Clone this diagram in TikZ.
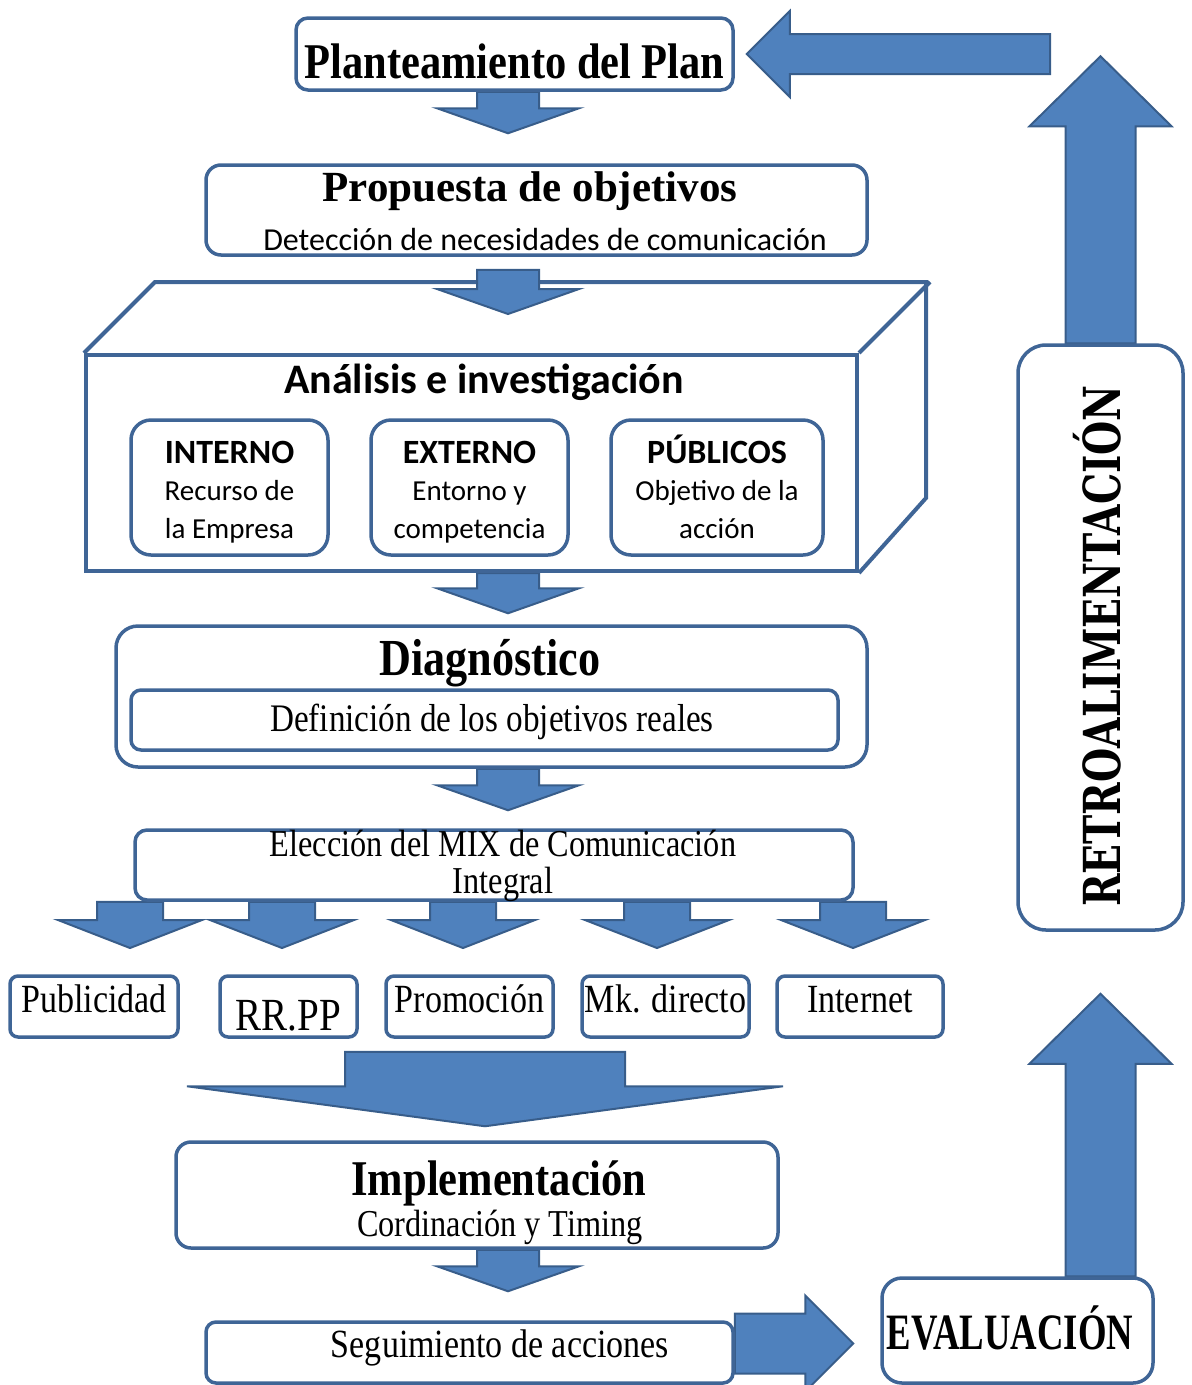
\documentclass[tikz,border=0pt]{standalone}
\usepackage{fontspec}
\setmainfont{Liberation Serif}
\newfontfamily\condserif[FakeStretch=0.85]{Liberation Serif}
\newfontfamily\narrowserif[FakeStretch=0.72]{Liberation Serif}
\newfontfamily\calibri{Carlito}
\newfontfamily\slabserif[FakeStretch=0.77]{DejaVu Serif}
\usetikzlibrary{calc,positioning}
\pgfdeclarelayer{background}
\pgfsetlayers{background,main}
\definecolor{boxline}{HTML}{3F6596}
\definecolor{arrfill}{HTML}{4F81BD}
\definecolor{arrline}{HTML}{385D8A}
\newcommand{\fsz}[2]{\fontsize{#1}{#2}\selectfont}
\newcommand{\topstrut}{\rule{0pt}{35pt}}
\newcommand{\botstrut}{\rule[-9pt]{0pt}{9pt}}

\begin{document}
\begin{tikzpicture}[
  x=1pt, y=-1pt,
  box/.style={rectangle, rounded corners=12pt, draw=boxline, line width=3.5pt, fill=white,
              inner sep=0pt, align=center},
  word/.style={inner sep=0pt, anchor=base},
  chan/.style={box, rounded corners=8pt, minimum height=61pt, font=\condserif\fsz{40}{44},
               text height=32pt, text depth=21pt},
  area/.style={box, rounded corners=20pt, minimum height=135pt, font=\calibri\fsz{29}{37.5}},
  blk/.style args={#1/#2/#3}{fill=arrfill, draw=arrline, line width=2pt,
    to path={($(\tikztostart)!#1!90:(\tikztotarget)$)
      -- ($($(\tikztotarget)!#3!(\tikztostart)$)!#1!90:(\tikztotarget)$)
      -- ($($(\tikztotarget)!#3!(\tikztostart)$)!#2!90:(\tikztotarget)$)
      -- (\tikztotarget)
      -- ($($(\tikztotarget)!#3!(\tikztostart)$)!#2!-90:(\tikztotarget)$)
      -- ($($(\tikztotarget)!#3!(\tikztostart)$)!#1!-90:(\tikztotarget)$)
      -- ($(\tikztostart)!#1!-90:(\tikztotarget)$) -- cycle}},
  downarr/.style={blk=31pt/71pt/25pt},
  mixarr/.style={blk=33pt/72pt/28pt},
  bigarr/.style={blk=140pt/298pt/40pt},
  sidearr/.style={blk=30pt/48pt/48pt},
  uparr/.style={blk=35pt/71pt/70pt},
  backarr/.style={blk=20pt/43pt/43pt}
]
\useasboundingbox (0,0) rectangle (1192,1385);
\coordinate (spine) at (508,0);

% plan and objectives
\node[box, minimum width=437pt, minimum height=72pt, font=\condserif\bfseries\fsz{50}{56},
      text height=48pt, text depth=0pt] (plan) at (514.5,54) {Planteamiento del Plan};
\node[box, rounded corners=15pt, minimum width=661pt, minimum height=90pt] (prop) at (536.5,210) {};
\node[word, font=\bfseries\fsz{43}{48}] (propt) at (530,201) {Propuesta de objetivos};
\node[word, font=\calibri\fsz{32}{36}] (props) at (545,250) {Detección de necesidades de comunicación};

% analysis block
\node[rectangle, draw=boxline, line width=4pt, fill=white, minimum width=771pt,
      minimum height=216pt] (ana) at (471.5,463) {};
\draw[boxline, line width=4pt] (ana.north west) -- ++(71,-71) -- ++(771,0) -- ++(0,216)
  -- (ana.south east) (ana.north east) -- ++(71,-71);
\node[word, font=\calibri\bfseries\fsz{42}{46}] (anat) at (484,393) {Análisis e investigación};
\node[area, minimum width=197pt] (int) at (229.5,487.5)
  {\topstrut{\fsz{34}{37.5}\bfseries INTERNO}\\Recurso de\\la Empresa\botstrut};
\node[area, minimum width=197pt] (ext) at (469.5,487.5)
  {\topstrut{\fsz{34}{37.5}\bfseries EXTERNO}\\Entorno y\\competencia\botstrut};
\node[area, minimum width=212pt] (pub) at (717,487.5)
  {\topstrut{\fsz{34}{37.5}\bfseries PÚBLICOS}\\Objetivo de la\\acción\botstrut};

% diagnosis
\node[box, rounded corners=22pt, minimum width=751pt, minimum height=141pt] (diag) at (491.5,696.5) {};
\node[word, font=\condserif\bfseries\fsz{52}{58}] (diagt) at (490,675) {Diagnóstico};
\node[box, rounded corners=10pt, minimum width=707pt, minimum height=60pt] (def) at (484.5,720) {};
\node[word, font=\condserif\fsz{39}{44}] (deft) at (492,731) {Definición de los objetivos reales};

% communication mix
\node[box, minimum width=718pt, minimum height=70pt] (mix) at (494,865) {};
\node[inner sep=0pt, align=center, font=\condserif\fsz{38}{37}] (mixt) at (503,866)
  {Elección del MIX de Comunicación\\Integral};
\node[chan, minimum width=168pt] (publ) at (94,1006.5) {Publicidad};
\node[chan, minimum width=137pt, font=\condserif\fsz{46}{50}, text height=47pt, text depth=0pt]
  (rrpp) at (288.5,1006.5) {RR.PP};
\node[chan, minimum width=167pt] (prom) at (469.5,1006.5) {Promoción};
\node[chan, minimum width=167pt] (mkd) at (665.5,1006.5) {Mk. directo};
\node[chan, minimum width=166pt] (inet) at (860,1006.5) {Internet};

% implementation and follow-up
\node[box, rounded corners=15pt, minimum width=602pt, minimum height=106pt] (impl) at (477,1195) {};
\node[word, font=\condserif\bfseries\fsz{50}{55}] (implt) at (499,1195) {Implementación};
\node[word, font=\condserif\fsz{38}{42}] (imps) at (500,1236) {Cordinación y Timing};
\node[box, rounded corners=10pt, minimum width=527pt, minimum height=61pt] (seg) at (469.5,1352.5) {};
\node[word, font=\condserif\fsz{40}{44}] (segt) at (500,1357) {Seguimiento de acciones};
\node[box, rounded corners=20pt, minimum width=271pt, minimum height=105pt] (eval) at (1017.5,1330.5) {};
\node[word, font=\narrowserif\bfseries\fsz{51}{56}] (evalt) at (1010,1349) {EVALUACIÓN};
\node[box, rounded corners=28pt, minimum width=165pt, minimum height=585pt] (retro) at (1100.5,637.5) {};
\node[word, rotate=90, font=\slabserif\bfseries\fsz{51}{56}] (retrot) at (1120,646) {RETROALIMENTACIÓN};

% block arrows
\draw[downarr] ($(prop.south -| spine)+(0,13)$) to ($(ana.north -| spine)+(0,-39)$);
\begin{pgfonlayer}{background}
\draw[downarr] (plan.south -| spine) to ($(prop.north -| spine)+(0,-30)$);
\draw[downarr] (ana.south -| spine) to ($(diag.north -| spine)+(0,-11)$);
\draw[downarr] (diag.south -| spine) to ($(mix.north -| spine)+(0,-18)$);
\foreach \x [count=\i] in {130,282,463,657,853} {
  \coordinate (m\i) at (\x,948);
  \draw[mixarr] (mix.south -| m\i) to (m\i);
}
\draw[bigarr] ($(prom.south)+(15.5,13)$) to ($(impl.north)+(8,-14)$);
\draw[downarr] (impl.south -| spine) to ($(seg.north -| spine)+(0,-29)$);
\coordinate (stip) at ($(eval.west)+(-27,13)$);
\draw[sidearr] (seg.east |- stip) to (stip);
\draw[uparr] (eval.north -| retro.south) to ($(retro.south)+(0,62)$);
\draw[uparr] (retro.north) to ($(retro.north)+(0,-287)$);
\coordinate (btail) at (1050,54);
\draw[backarr] (btail) to ($(plan.east)+(12,0)$);
\end{pgfonlayer}
\end{tikzpicture}
\end{document}
